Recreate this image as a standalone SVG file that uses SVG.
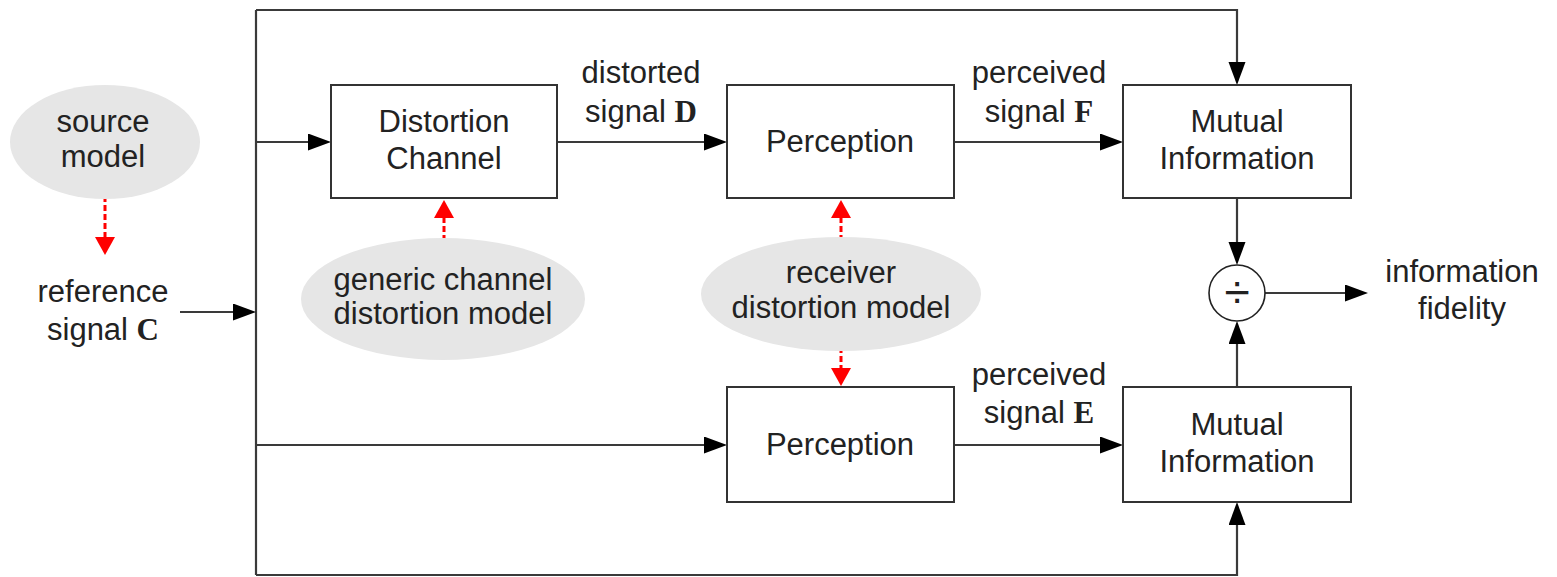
<svg xmlns="http://www.w3.org/2000/svg" width="1557" height="577" viewBox="0 0 1557 577">
<style>
.box{fill:#fff;stroke:#333;stroke-width:2}
.ell{fill:#e6e6e6;stroke:none}
.t{font-family:"Liberation Sans",Arial,sans-serif;font-size:31px;fill:#222;text-anchor:middle}
.m{font-family:"Liberation Serif","Times New Roman",serif;font-weight:bold}
.ln{fill:none;stroke:#3a3a3a;stroke-width:2.2}
.ar{fill:none;stroke:#3a3a3a;stroke-width:2.2;marker-end:url(#ah)}
.rd{fill:none;stroke:#ff0000;stroke-width:3;stroke-dasharray:6,3;marker-end:url(#rh)}
</style>
<defs>
<marker id="ah" markerUnits="userSpaceOnUse" markerWidth="24" markerHeight="18" refX="0" refY="8.5" orient="auto">
<path d="M0,0 L23,8.5 L0,17 z" fill="#000"/>
</marker>
<marker id="rh" markerUnits="userSpaceOnUse" markerWidth="19" markerHeight="21" refX="0" refY="10" orient="auto">
<path d="M0,0 L18,10 L0,20 z" fill="#ff0000"/>
</marker>
</defs>
<rect width="1557" height="577" fill="#fff"/>

<g id="connectors">
<line class="ln" x1="256" y1="10" x2="256" y2="575"/>
<line class="ar" x1="180" y1="312" x2="233" y2="312"/>
<line class="ar" x1="256" y1="142" x2="308" y2="142"/>
<line class="ar" x1="557" y1="142" x2="704" y2="142"/>
<line class="ar" x1="954" y1="142" x2="1100" y2="142"/>
<polyline class="ar" points="256,10 1237,10 1237,62"/>
<line class="ar" x1="256" y1="445" x2="704" y2="445"/>
<line class="ar" x1="954" y1="445" x2="1100" y2="445"/>
<polyline class="ar" points="256,575 1237,575 1237,525"/>
<line class="ar" x1="1237" y1="198" x2="1237" y2="242"/>
<line class="ar" x1="1237" y1="387" x2="1237" y2="344"/>
<line class="ar" x1="1265" y1="293" x2="1345" y2="293"/>
<line class="rd" x1="105" y1="187" x2="105" y2="237"/>
<line class="rd" x1="444" y1="250" x2="444" y2="218"/>
<line class="rd" x1="841" y1="250" x2="841" y2="218"/>
<line class="rd" x1="841" y1="338" x2="841" y2="368"/>
</g>

<g id="source-model">
<ellipse class="ell" cx="105" cy="142" rx="95" ry="57"/>
<text class="t" x="103" y="132">source</text>
<text class="t" x="103" y="167">model</text>
</g>

<g id="reference-signal">
<text class="t" x="103" y="302">reference</text>
<text class="t" x="103" y="340">signal <tspan class="m">C</tspan></text>
</g>

<g id="distortion-channel">
<rect class="box" x="331" y="85" width="226" height="113"/>
<text class="t" x="444" y="132">Distortion</text>
<text class="t" x="444" y="169">Channel</text>
</g>

<g id="label-d">
<text class="t" x="641" y="83">distorted</text>
<text class="t" x="641" y="122">signal <tspan class="m">D</tspan></text>
</g>

<g id="generic-channel-model">
<ellipse class="ell" cx="443" cy="299" rx="142" ry="61"/>
<text class="t" x="443" y="290">generic channel</text>
<text class="t" x="443" y="324">distortion model</text>
</g>

<g id="perception-top">
<rect class="box" x="727" y="85" width="227" height="113"/>
<text class="t" x="840" y="152">Perception</text>
</g>

<g id="receiver-model">
<ellipse class="ell" cx="841" cy="294" rx="140" ry="57"/>
<text class="t" x="841" y="283">receiver</text>
<text class="t" x="841" y="318">distortion model</text>
</g>

<g id="perception-bottom">
<rect class="box" x="727" y="387" width="227" height="115"/>
<text class="t" x="840" y="455">Perception</text>
</g>

<g id="label-f">
<text class="t" x="1039" y="83">perceived</text>
<text class="t" x="1039" y="122">signal <tspan class="m">F</tspan></text>
</g>

<g id="label-e">
<text class="t" x="1039" y="385">perceived</text>
<text class="t" x="1039" y="423">signal <tspan class="m">E</tspan></text>
</g>

<g id="mutual-info-top">
<rect class="box" x="1123" y="85" width="228" height="113"/>
<text class="t" x="1237" y="132">Mutual</text>
<text class="t" x="1237" y="169">Information</text>
</g>

<g id="mutual-info-bottom">
<rect class="box" x="1123" y="387" width="228" height="115"/>
<text class="t" x="1237" y="435">Mutual</text>
<text class="t" x="1237" y="472">Information</text>
</g>

<g id="divide">
<circle cx="1237" cy="293" r="28" fill="#fff" stroke="#222" stroke-width="1.6"/>
<text class="t" x="1237" y="308" style="font-size:46px">÷</text>
</g>

<g id="output">
<text class="t" x="1462" y="282">information</text>
<text class="t" x="1462" y="319">fidelity</text>
</g>
</svg>
